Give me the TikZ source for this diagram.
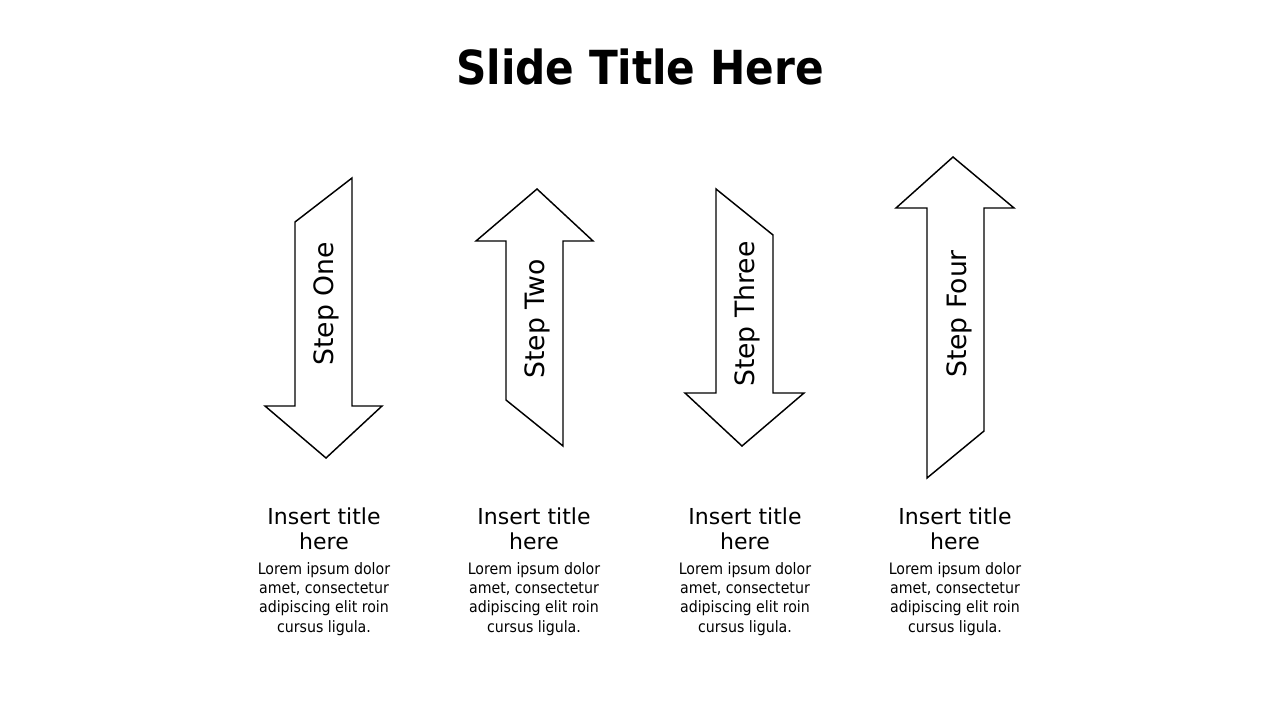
\documentclass[tikz,border=0pt]{standalone}
\usepackage{fontspec}
\setmainfont{DejaVu Sans}
\newfontfamily\condfont{DejaVu Sans Condensed}
\usepackage{tikz}
\usetikzlibrary{positioning}
\tikzstyle{arrowshape} = [draw=black, line width=1.1pt, fill=white, line join=miter]
\tikzstyle{steplabel} = [rotate=90, inner sep=0pt, font=\fontsize{20}{24}\selectfont]
\tikzstyle{itemtitle} = [align=center, anchor=base, inner sep=0pt, font=\fontsize{16.5}{18.5}\selectfont]
\tikzstyle{itemtext} = [align=center, anchor=base, inner sep=0pt, font=\condfont\fontsize{11.8}{14.5}\selectfont]
\tikzstyle{slidetitle} = [anchor=base, inner sep=0pt, font=\condfont\bfseries\fontsize{35.2}{40}\selectfont]

\begin{document}
\begin{tikzpicture}[x=0.75pt, y=-0.75pt]
    \useasboundingbox[fill=white] (0,0) rectangle (1280,720);

    % Title
    \node (title) [slidetitle] at (640,85) {Slide Title Here};

    % Arrows
    \draw [arrowshape] (295,222) -- (352,178) -- (352,406) -- (382,406) -- (326,458) -- (265,406) -- (295,406) -- cycle;
    \draw [arrowshape] (537,189) -- (593,241) -- (563,241) -- (563,446) -- (506,400) -- (506,241) -- (476,241) -- cycle;
    \draw [arrowshape] (716,189) -- (773,235) -- (773,393) -- (804,393) -- (742,446) -- (685,393) -- (716,393) -- cycle;
    \draw [arrowshape] (953,157) -- (1014,208) -- (984,208) -- (984,431) -- (927,478) -- (927,208) -- (896,208) -- cycle;

    % Step labels
    \node (one) [steplabel] at (326,304) {Step One};
    \node (two) [steplabel] at (537,319) {Step Two};
    \node (three) [steplabel] at (747,314) {Step Three};
    \node (four) [steplabel] at (959,314) {Step Four};

    % Titles (base = last line)
    \node (t1) [itemtitle] at (324,549) {Insert title\\here};
    \node (t2) [itemtitle] at (534,549) {Insert title\\here};
    \node (t3) [itemtitle] at (745,549) {Insert title\\here};
    \node (t4) [itemtitle] at (955,549) {Insert title\\here};

    % Texts
    \node (d1) [itemtext] at (324,632) {Lorem ipsum dolor\\amet, consectetur\\adipiscing elit roin\\cursus ligula.};
    \node (d2) [itemtext] at (534,632) {Lorem ipsum dolor\\amet, consectetur\\adipiscing elit roin\\cursus ligula.};
    \node (d3) [itemtext] at (745,632) {Lorem ipsum dolor\\amet, consectetur\\adipiscing elit roin\\cursus ligula.};
    \node (d4) [itemtext] at (955,632) {Lorem ipsum dolor\\amet, consectetur\\adipiscing elit roin\\cursus ligula.};
\end{tikzpicture}
\end{document}
